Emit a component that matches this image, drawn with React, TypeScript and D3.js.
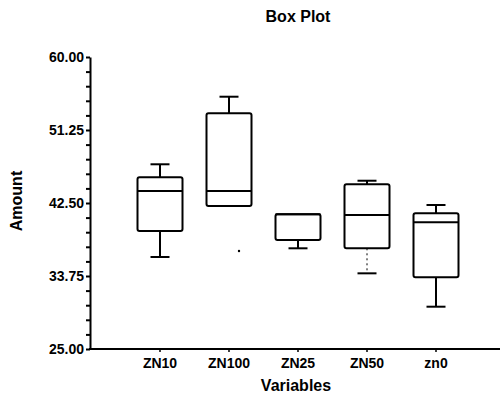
import React, { useEffect, useRef } from "react";
import * as d3 from "d3";

// values
const categories = ["ZN10", "ZN100", "ZN25", "ZN50", "zn0"];
const whiskerHigh = [47.14, 55.24, 41.15, 45.17, 42.26];
const q3 = [45.58, 53.25, 41.15, 44.74, 41.27];
const median = [43.94, 43.94, 41.15, 41.06, 40.19];
const q1 = [39.14, 42.14, 38.07, 37.07, 33.59];
const whiskerLow = [36.03, 42.14, 37.07, 34.07, 30.07];
const dashedLow = [false, false, false, true, false];
const outliers = [{ cat: "ZN100", value: 36.75 }];
const yTicks = [25, 33.75, 42.5, 51.25, 60];

const App = () => {
  const svgRef = useRef<SVGSVGElement | null>(null);

  useEffect(() => {
    const width = 500;
    const height = 398;
    const margin = { top: 57, right: 0, bottom: 49, left: 90 };

    const svg = d3.select(svgRef.current);
    svg.selectAll("*").remove();
    svg.attr("width", width).attr("height", height);

    const font = "'Liberation Sans', Arial, sans-serif";

    const y = d3.scaleLinear().domain([25, 60]).range([height - margin.bottom, margin.top]);
    const x = d3.scalePoint<string>().domain(categories).range([160, 436]);

    // title
    svg.append("text")
      .attr("x", 298).attr("y", 22)
      .attr("text-anchor", "middle")
      .style("font-family", font).style("font-weight", "bold").style("font-size", "16px")
      .text("Box Plot");

    // y axis with minor ticks every 1.75
    const allTicks = d3.range(0, 21).map(i => 25 + i * 1.75);
    const yAxis = svg.append("g")
      .attr("transform", `translate(${margin.left},0)`)
      .call(d3.axisLeft(y)
        .tickValues(allTicks)
        .tickSize(4)
        .tickSizeOuter(0)
        .tickFormat((d: any) => yTicks.some(t => Math.abs(t - d) < 1e-6) ? d3.format(".2f")(d) : ""));
    yAxis.select(".domain").attr("stroke-width", 2);
    yAxis.selectAll("line").attr("stroke-width", 2);
    yAxis.selectAll("text")
      .attr("x", -6)
      .style("font-family", font).style("font-weight", "bold").style("font-size", "14px")
      .attr("fill", "#000");

    // x axis line with tiny category ticks
    svg.append("line")
      .attr("x1", margin.left - 1).attr("x2", width)
      .attr("y1", y(25)).attr("y2", y(25))
      .attr("stroke", "#000").attr("stroke-width", 2);
    svg.append("g").selectAll("line")
      .data(categories)
      .enter()
      .append("line")
      .attr("x1", d => x(d) as number).attr("x2", d => x(d) as number)
      .attr("y1", y(25)).attr("y2", y(25) + 3)
      .attr("stroke", "#000").attr("stroke-width", 1.5);

    // category labels
    svg.append("g").selectAll("text")
      .data(categories)
      .enter()
      .append("text")
      .attr("x", d => x(d) as number)
      .attr("y", 368)
      .attr("text-anchor", "middle")
      .style("font-family", font).style("font-weight", "bold").style("font-size", "14px")
      .text(d => d);

    // axis titles
    svg.append("text")
      .attr("x", 296).attr("y", 391)
      .attr("text-anchor", "middle")
      .style("font-family", font).style("font-weight", "bold").style("font-size", "16px")
      .text("Variables");

    svg.append("text")
      .attr("transform", `translate(22,${201}) rotate(-90)`)
      .attr("text-anchor", "middle")
      .style("font-family", font).style("font-weight", "bold").style("font-size", "16px")
      .text("Amount");

    // boxes
    const boxW = 45;
    const capW = 19;
    const boxes = svg.append("g").selectAll("g")
      .data(categories.map((c, i) => ({
        c, hi: whiskerHigh[i], q3: q3[i], med: median[i], q1: q1[i], lo: whiskerLow[i], dashed: dashedLow[i],
      })))
      .enter()
      .append("g")
      .attr("stroke", "#000")
      .attr("stroke-width", 2)
      .attr("fill", "none");

    // upper whisker
    boxes.filter(d => d.hi > d.q3)
      .append("line")
      .attr("x1", d => x(d.c) as number).attr("x2", d => x(d.c) as number)
      .attr("y1", d => y(d.q3)).attr("y2", d => y(d.hi));
    boxes.filter(d => d.hi > d.q3)
      .append("line")
      .attr("x1", d => (x(d.c) as number) - capW / 2).attr("x2", d => (x(d.c) as number) + capW / 2)
      .attr("y1", d => y(d.hi)).attr("y2", d => y(d.hi));

    // lower whisker
    boxes.filter(d => d.lo < d.q1)
      .append("line")
      .attr("x1", d => x(d.c) as number).attr("x2", d => x(d.c) as number)
      .attr("y1", d => y(d.q1)).attr("y2", d => y(d.lo))
      .attr("stroke-width", d => d.dashed ? 1 : 2)
      .attr("stroke-dasharray", d => d.dashed ? "2,3" : null);
    boxes.filter(d => d.lo < d.q1)
      .append("line")
      .attr("x1", d => (x(d.c) as number) - capW / 2).attr("x2", d => (x(d.c) as number) + capW / 2)
      .attr("y1", d => y(d.lo)).attr("y2", d => y(d.lo));

    boxes.append("rect")
      .attr("x", d => (x(d.c) as number) - boxW / 2)
      .attr("width", boxW)
      .attr("y", d => y(d.q3))
      .attr("height", d => y(d.q1) - y(d.q3))
      .attr("rx", 2)
      .attr("fill", "#fff");

    boxes.append("line")
      .attr("x1", d => (x(d.c) as number) - boxW / 2).attr("x2", d => (x(d.c) as number) + boxW / 2)
      .attr("y1", d => y(d.med)).attr("y2", d => y(d.med));

    // outlier points
    svg.append("g").selectAll("circle")
      .data(outliers)
      .enter()
      .append("circle")
      .attr("cx", d => (x(d.cat) as number) + 10)
      .attr("cy", d => y(d.value))
      .attr("r", 1.2)
      .attr("fill", "#000");
  }, []);

  return (
    <div style={{ position: "absolute", left: 0, top: 0 }}>
      <svg ref={svgRef} style={{ display: "block", background: "#fff" }}></svg>
    </div>
  );
};

export default App;
